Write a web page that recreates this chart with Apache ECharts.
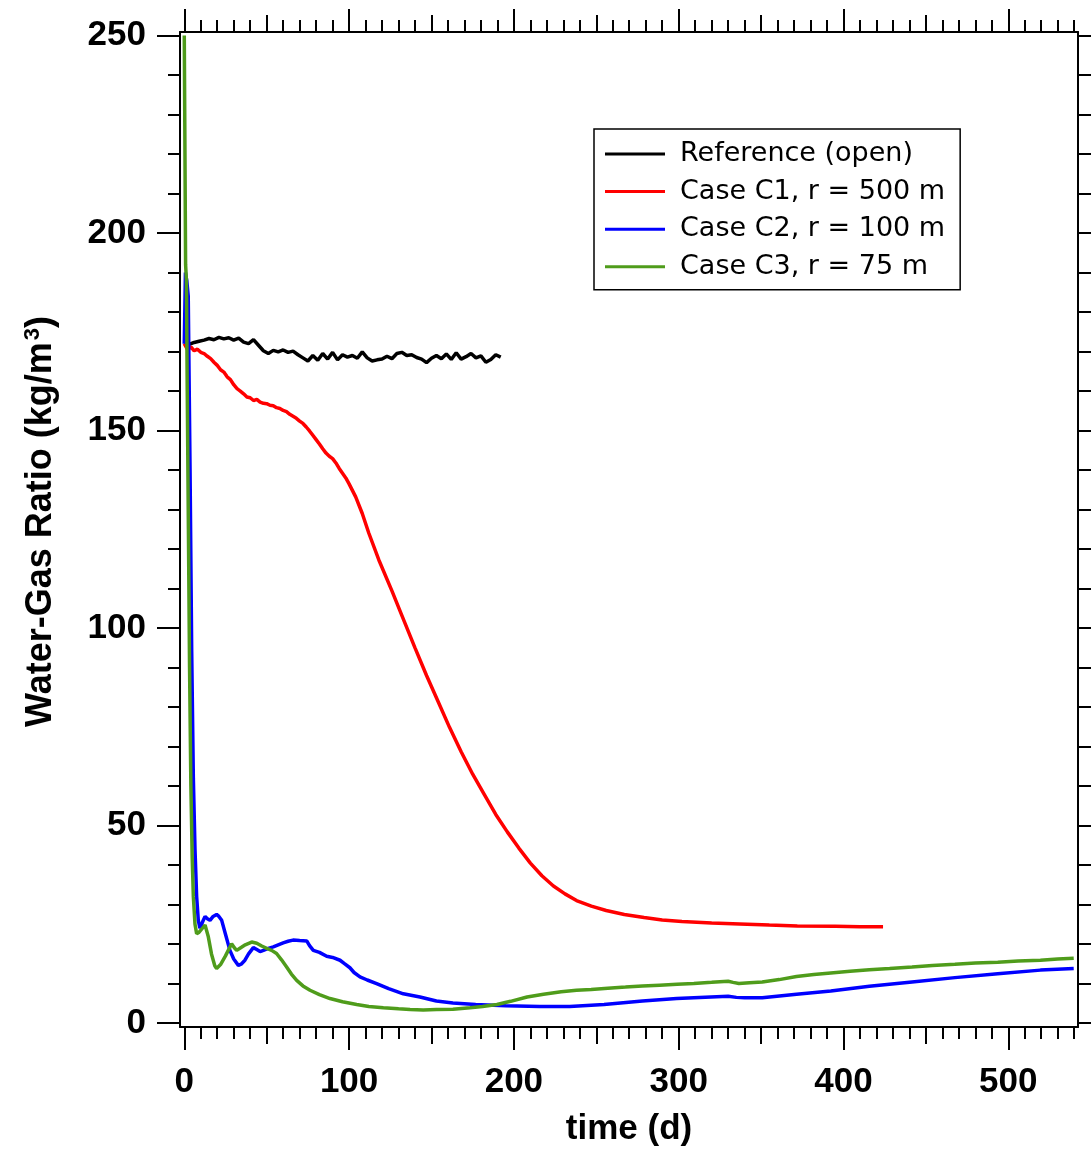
<!DOCTYPE html>
<html><head><meta charset="utf-8">
<script src="https://cdn.jsdelivr.net/npm/echarts@6/dist/echarts.min.js"></script>
<style>html,body{margin:0;padding:0;background:#fff}#c{width:1091px;height:1153px}</style>
</head><body><div id="c"></div>
<script>
// ---- data ----
const seriesNames = ['Reference (open)', 'Case C1, r = 500 m', 'Case C2, r = 100 m', 'Case C3, r = 75 m'];

const refTime = [0,3,6,9,12,15,18,21,24,27,30,33,36,39,42,45,48,51,54,57,60,63,66,69,72,75,78,81,84,87,90,93,96,99,102,105,108,111,114,117,120,123,126,129,132,135,138,141,144,147,150,153,156,159,162,165,168,171,174,177,180,183,186,189,192];
const refWGR = [172.0,171.8,172.3,172.6,172.9,173.3,173.0,173.6,173.2,173.5,172.9,173.4,172.4,172.0,173.0,171.6,170.2,169.5,170.3,169.9,170.4,169.8,170.1,169.2,168.4,167.6,169.0,167.8,169.5,168.1,169.8,167.9,169.2,168.6,169.0,168.3,169.9,168.4,167.6,167.9,168.1,168.8,168.2,169.5,169.8,169.0,169.2,168.5,168.1,167.2,168.3,169.0,168.2,169.4,168.0,169.7,168.1,168.7,169.5,168.4,168.9,167.3,168.0,169.2,168.6];

const c1Time = [0,2,4,6,8,10,12,14,16,18,20,22,24,26,28,30,32,34,36,38,40,42,44,46,48,50,52,54,56,58,60,62,64,66,68,70,72,74,76,78,80,82,84,86,88,90,92,94,96,98,100,104,108,112,118,126,132,140,147,154,161,168,175,182,189,196,203,210,217,224,231,238,247,256,267,279,290,302,320,337,355,372,395,410,424];
const c1WGR = [172.0,170.5,171.2,170.2,170.6,169.8,169.5,168.8,168.2,167.3,166.5,165.4,164.8,163.6,162.9,161.6,160.6,160.0,159.3,158.5,158.3,157.6,157.9,157.2,156.9,156.8,156.4,156.3,155.8,155.6,155.1,154.8,154.1,153.6,153.1,152.4,151.8,150.9,149.9,148.8,147.7,146.6,145.4,144.3,143.5,142.9,141.8,140.4,139.2,138.0,136.5,133.2,129.0,124.0,117.3,109.4,103.2,95.0,88.0,81.4,74.8,68.7,63.0,57.9,52.8,48.4,44.3,40.5,37.3,34.7,32.7,31.0,29.6,28.5,27.5,26.7,26.1,25.7,25.3,25.1,24.8,24.6,24.5,24.4,24.4];

const c2Time = [0,0.7,1.5,2.4,3.5,4.5,5.5,6.5,7.5,8.5,9.5,11,12.6,14,15.6,17.5,19.6,21,22.7,25,27.7,30,32.8,34.5,36.8,39,41.9,44,46,48,51,54,57,60,63,66,70,74.3,76,78.3,82,86.4,90,94.5,97,100.5,103,106.6,111,116.7,124,132.9,143,153,163,176.8,195,215.7,233.9,254.7,278,298.8,319.6,330,335,340,350.7,371.5,392.3,415.7,441.6,467.6,493.6,519.5,539.7];
const c2WGR = [172,190,188,184,140,94,62,44,32,26,24,25.5,27.0,26.4,26.0,27.0,27.5,27.0,26.0,22.5,18.4,16.2,14.6,14.9,15.9,17.5,19.1,18.6,18.1,18.4,18.9,19.3,19.8,20.3,20.7,21.0,20.9,20.8,19.6,18.4,17.9,16.9,16.6,15.9,15.1,14.0,12.8,11.7,10.9,10.0,8.7,7.4,6.6,5.6,5.1,4.7,4.4,4.2,4.2,4.7,5.6,6.2,6.6,6.8,6.5,6.4,6.4,7.3,8.1,9.3,10.4,11.5,12.5,13.4,13.8];

const c3Time = [0,0.5,0.8,1.3,1.8,2.5,3.2,4,4.8,5.5,6.5,7.5,9,11,12.6,14.5,16.5,18.5,19.6,22,25,28.7,30.5,31.8,34,37,40.9,44,47,50,53,56,59,62.1,65,68.2,72,76.3,82,88.4,96,104.6,112,120.8,130,137,145,153,163,173.4,181,189.7,198,208,218,228.7,238,246.9,257,267.7,278,288.4,299,309.2,320,330,333,336.5,343,350.7,361,371.5,382,392.3,404,415.7,428,441.6,454,467.6,480,493.6,506,519.5,530,539.7];
const c3WGR = [250,250,192,188,160,125,90,60,42,32,25,22.6,23.0,24.0,24.8,22.0,17.5,14.5,13.8,14.8,17.0,20.1,19.0,18.4,19.0,19.8,20.5,20.2,19.5,18.9,18.4,17.6,16.0,14.2,12.4,10.8,9.4,8.3,7.2,6.2,5.4,4.7,4.2,3.9,3.6,3.4,3.3,3.4,3.5,3.9,4.2,4.7,5.5,6.6,7.3,7.9,8.3,8.5,8.8,9.1,9.4,9.6,9.8,10.0,10.3,10.6,10.3,10.0,10.2,10.4,11.0,11.8,12.3,12.7,13.1,13.5,13.8,14.2,14.6,14.9,15.2,15.4,15.7,15.9,16.2,16.4];

const xMajorTicks = [0,100,200,300,400,500];
const xMidTicks = [50,150,250,350,450];
const yMajorTicks = [0,50,100,150,200,250];

// ---- layout ----
const X_MIN = -2.6, X_MAX = 542.3, Y_MIN = -1.0, Y_MAX = 250.9;
const xMinorTicks = [], yMinorTicks = [], yAllTicks = [];
for (let v = 10; v <= 540; v += 10) if (v % 50 !== 0) xMinorTicks.push(v);
for (let v = 0; v <= 250; v += 10) { yAllTicks.push(v); if (v % 50 !== 0) yMinorTicks.push(v); }

const zip = (a, b) => a.map((t, i) => [t, b[i]]);
const BOLD = 'Liberation Sans, Arial, Helvetica, sans-serif';
const tickStyle = {color: '#000', width: 2};
const lineAx = {show: true, onZero: false, lineStyle: {color: '#000', width: 2}};
const noLine = {show: false, onZero: false};

function ax(kind, pos, ticks, len, extra) {
  const base = {
    type: 'value', position: pos,
    min: kind === 'x' ? X_MIN : Y_MIN, max: kind === 'x' ? X_MAX : Y_MAX,
    axisLine: noLine,
    axisTick: {show: true, inside: false, length: len, customValues: ticks, lineStyle: tickStyle},
    axisLabel: {show: false},
    splitLine: {show: false}, minorTick: {show: false}, minorSplitLine: {show: false},
    silent: true
  };
  return Object.assign(base, extra || {});
}

const labelStyle = {fontFamily: BOLD, fontWeight: 'bold', fontSize: 35, color: '#000'};

const xAxes = [
  ax('x', 'bottom', xMajorTicks, 23, {
    axisLine: lineAx,
    axisLabel: Object.assign({show: true, customValues: xMajorTicks, margin: 38}, labelStyle),
    name: 'time (d)', nameLocation: 'middle', nameGap: 85,
    nameTextStyle: Object.assign({}, labelStyle, {fontSize: 35})
  }),
  ax('x', 'bottom', xMidTicks, 17),
  ax('x', 'bottom', xMinorTicks, 12),
  ax('x', 'top', xMajorTicks, 23, {axisLine: lineAx}),
  ax('x', 'top', xMidTicks, 17),
  ax('x', 'top', xMinorTicks, 12)
];
const yAxes = [
  ax('y', 'left', yMajorTicks, 23, {
    axisLine: lineAx,
    axisLabel: Object.assign({show: true, customValues: yMajorTicks, margin: 34}, labelStyle),
    name: 'Water-Gas Ratio (kg/m{sup|3})', nameLocation: 'middle', nameGap: 120, nameRotate: 90,
    nameTextStyle: Object.assign({}, labelStyle, {
      fontSize: 36,
      padding: [0, 0, 0, 16],
      rich: {sup: {fontFamily: BOLD, fontWeight: 'bold', fontSize: 22, color: '#000', verticalAlign: 'top', padding: [0, 0, 16, 2]}}
    })
  }),
  ax('y', 'left', yMinorTicks, 12),
  ax('y', 'right', yAllTicks, 13, {axisLine: lineAx})
];

const colors = ['#000000', '#ff0000', '#0000ff', '#4f9c1b'];
const dataSets = [zip(refTime, refWGR), zip(c1Time, c1WGR), zip(c2Time, c2WGR), zip(c3Time, c3WGR)];

const chart = echarts.init(document.getElementById('c'), null, {renderer: 'canvas'});
chart.setOption({
  animation: false,
  backgroundColor: '#ffffff',
  grid: {left: 180, right: 13, top: 32, bottom: 126, containLabel: false, outerBoundsMode: 'none'},
  xAxis: xAxes,
  yAxis: yAxes,
  legend: {
    orient: 'vertical', left: 594, top: 129,
    data: seriesNames,
    icon: 'rect',
    itemWidth: 60, itemHeight: 3, itemGap: 7.6,
    padding: [10, 15, 8, 11],
    borderColor: '#000', borderWidth: 1.5, backgroundColor: '#fff',
    textStyle: {fontFamily: 'DejaVu Sans', fontSize: 27, lineHeight: 30, color: '#000', padding: [0, 0, 0, 10]},
    selectedMode: false
  },
  series: seriesNames.map((n, i) => ({
    name: n, type: 'line', data: dataSets[i],
    xAxisIndex: 0, yAxisIndex: 0,
    symbol: 'none', showSymbol: false, smooth: false,
    lineStyle: {color: colors[i], width: 3.5},
    itemStyle: {color: colors[i]},
    clip: true
  }))
});
</script></body></html>
